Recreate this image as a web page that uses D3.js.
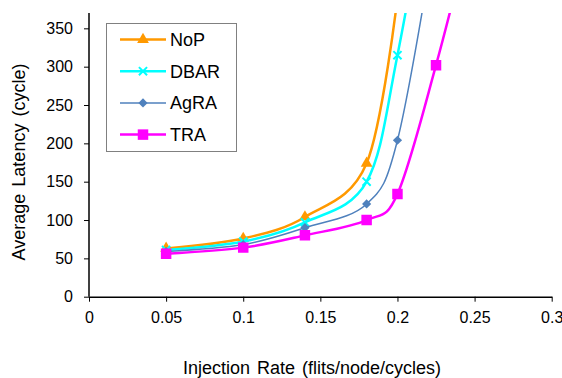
<!DOCTYPE html>
<html>
<head>
<meta charset="utf-8">
<script src="https://cdn.jsdelivr.net/npm/d3@7"></script>
<style>
  body { margin: 0; background: #fff; }
  text { font-family: "Liberation Sans", Arial, sans-serif; fill: #000; }
</style>
</head>
<body>
<div id="chart"></div>
<script>
// Injection rates (x) per series
const ratesNoP  = [0.05, 0.1, 0.14, 0.18, 0.2];
const ratesDBAR = [0.05, 0.1, 0.14, 0.18, 0.2, 0.225];
const ratesAgRA = [0.05, 0.1, 0.14, 0.18, 0.2, 0.225];
const ratesTRA  = [0.05, 0.1, 0.14, 0.18, 0.2, 0.225, 0.25];
// Average latency values (cycles)
const latencyNoP  = [63, 76, 104, 174, 390];
const latencyDBAR = [61, 72, 97, 150, 315, 600];
const latencyAgRA = [59, 68, 90, 121, 204, 480];
const latencyTRA  = [56, 64, 80, 100, 134, 302, 500];

const seriesNames = ["NoP", "DBAR", "AgRA", "TRA"];
const xTicks = [0, 0.05, 0.1, 0.15, 0.2, 0.25, 0.3];
const yTicks = [0, 50, 100, 150, 200, 250, 300, 350];

const totalWidth = 562, totalHeight = 378;
const margin = {top: 13, right: 10.3, bottom: 81.3, left: 89};
const width = totalWidth - margin.left - margin.right;
const height = totalHeight - margin.top - margin.bottom;

const svg = d3.select("#chart").append("svg")
  .attr("width", totalWidth)
  .attr("height", totalHeight);

const g = svg.append("g")
  .attr("transform", "translate(" + margin.left + "," + margin.top + ")");

const x = d3.scaleLinear().domain([0, 0.3]).range([0, width]);
const y = d3.scaleLinear().domain([0, 370]).range([height, 0]);

// clip so the steep curves stop at the top of the plot
svg.append("defs").append("clipPath").attr("id", "plot")
  .append("rect").attr("x", 0).attr("y", 0).attr("width", width + 20).attr("height", height);

const fmt = d => String(+d.toFixed(2));

// axes
const xAxis = g.append("g")
  .attr("transform", "translate(0," + height + ")")
  .call(d3.axisBottom(x).tickValues(xTicks).tickFormat(fmt).tickSize(5).tickPadding(10).tickSizeOuter(0));
const yAxis = g.append("g")
  .call(d3.axisLeft(y).tickValues(yTicks).tickSize(5).tickPadding(11).tickSizeOuter(0));
[xAxis, yAxis].forEach(a => {
  a.select(".domain").attr("stroke", "#000").attr("stroke-width", 1.5);
  a.selectAll(".tick line").attr("stroke", "#000");
  a.selectAll("text").style("font-size", "16px").style("font-family", "Liberation Sans, Arial, sans-serif");
});
// y axis line spans the full plot height
yAxis.select(".domain").attr("d", "M0," + height + "V0");

// series definitions
const series = [
  {name: seriesNames[0], xs: ratesNoP,  ys: latencyNoP,  color: "#FF9900", width: 2.5, symbol: d3.symbolTriangle, size: 60, rotate: 0, stroke: false},
  {name: seriesNames[1], xs: ratesDBAR, ys: latencyDBAR, color: "#00FFFF", width: 2.5, symbol: d3.symbolX, size: 45, rotate: 0, stroke: true},
  {name: seriesNames[2], xs: ratesAgRA, ys: latencyAgRA, color: "#4F81BD", width: 1.5, symbol: d3.symbolSquare, size: 42, rotate: 45, stroke: false},
  {name: seriesNames[3], xs: ratesTRA,  ys: latencyTRA,  color: "#FF00FF", width: 2.5, symbol: d3.symbolSquare, size: 110, rotate: 0, stroke: false}
];

const line = d3.line()
  .x(d => x(d[0]))
  .y(d => y(d[1]))
  .curve(d3.curveCardinal.tension(0));

const plot = g.append("g").attr("clip-path", "url(#plot)");

function drawMarker(sel, s) {
  const p = sel.append("path")
    .attr("d", d3.symbol().type(s.symbol).size(s.size)());
  if (s.stroke) p.attr("fill", "none").attr("stroke", s.color).attr("stroke-width", 2);
  else p.attr("fill", s.color);
  return p;
}

series.forEach(s => {
  const pts = s.xs.map((v, i) => [v, s.ys[i]]);
  plot.append("path")
    .datum(pts)
    .attr("fill", "none")
    .attr("stroke", s.color)
    .attr("stroke-width", s.width)
    .attr("d", line);
  pts.forEach(p => {
    const m = plot.append("g")
      .attr("transform", "translate(" + x(p[0]) + "," + y(p[1]) + ") rotate(" + s.rotate + ")");
    drawMarker(m, s);
  });
});

// axis titles
svg.append("text")
  .attr("x", 183).attr("y", 374)
  .style("font-size", "18px").style("word-spacing", "2px")
  .text("Injection Rate (flits/node/cycles)");
svg.append("text")
  .attr("transform", "translate(25,162) rotate(-90)")
  .attr("text-anchor", "middle")
  .style("font-size", "18px").style("word-spacing", "2px")
  .text("Average Latency (cycle)");

// legend
const legend = svg.append("g");
legend.append("rect")
  .attr("x", 106.5).attr("y", 23.5).attr("width", 130).attr("height", 128)
  .attr("fill", "#fff").attr("stroke", "#808080").attr("stroke-width", 1);
series.forEach((s, i) => {
  const ly = 39.5 + i * 31.7;
  legend.append("line")
    .attr("x1", 120).attr("x2", 166).attr("y1", ly).attr("y2", ly)
    .attr("stroke", s.color).attr("stroke-width", s.width);
  const m = legend.append("g")
    .attr("transform", "translate(143," + ly + ") rotate(" + s.rotate + ")");
  drawMarker(m, s);
  legend.append("text")
    .attr("x", 170).attr("y", ly + 6.5)
    .style("font-size", "18px")
    .text(s.name);
});
</script>
</body>
</html>
